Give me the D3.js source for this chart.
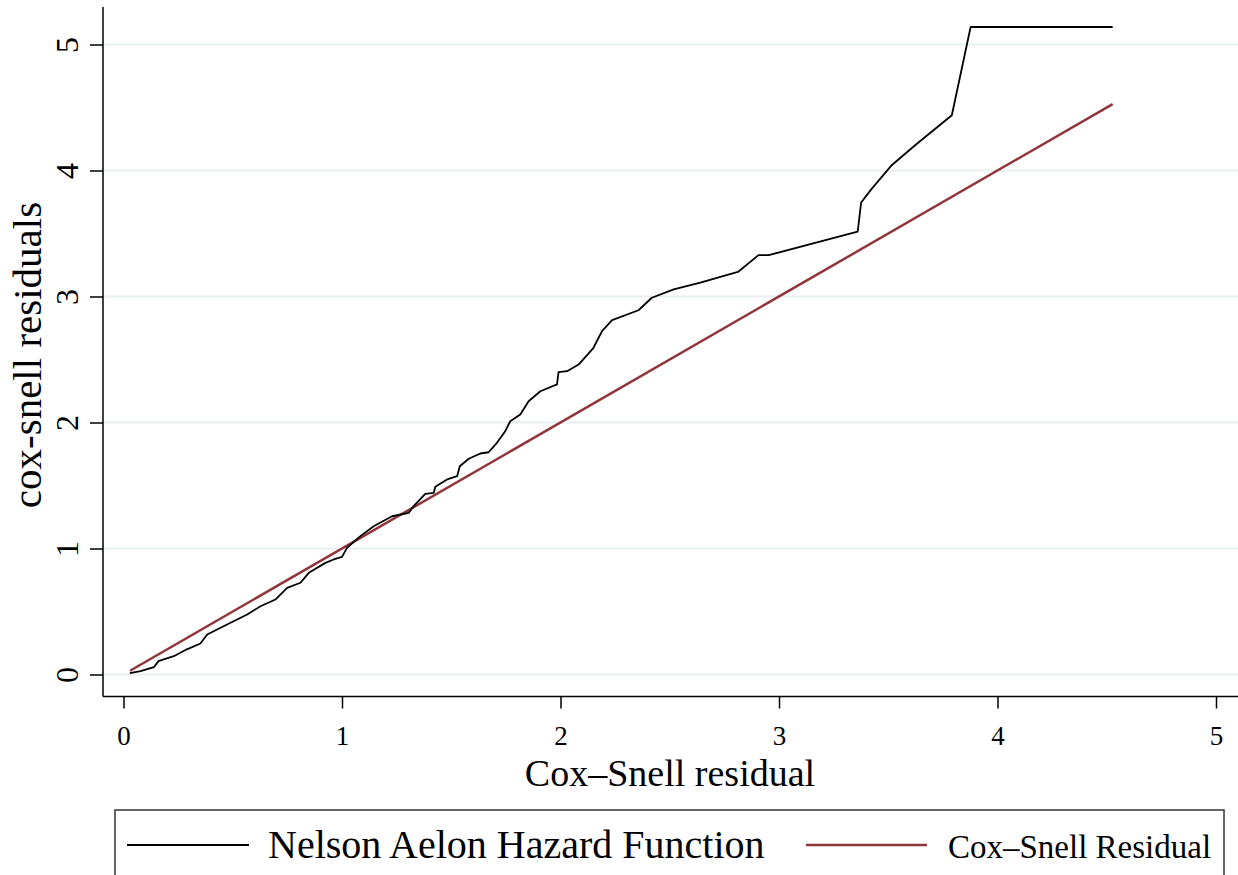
<!DOCTYPE html>
<html lang="en">
<head>
  <meta charset="utf-8">
  <title>Cox-Snell residuals</title>
  <script src="https://cdn.jsdelivr.net/npm/d3@7"></script>
  <style>
    body { margin: 0; background: #fff; }
    text { font-family: "Liberation Serif", "Times New Roman", serif; fill: #000; }
    .grid line { stroke: #e8f0f2; stroke-width: 2px; }
    .axis path, .axis line { stroke: #000; stroke-width: 1.5px; }
  </style>
</head>
<body>
  <div id="chart"></div>
  <script>
    // Nelson-Aalen cumulative hazard
    var hazX = [0.029, 0.078, 0.139, 0.16, 0.23, 0.29, 0.352, 0.383, 0.474, 0.566,
                0.627, 0.695, 0.749, 0.81, 0.848, 0.924, 0.962, 1.0, 1.023, 1.084,
                1.145, 1.229, 1.305, 1.328, 1.381, 1.42, 1.427, 1.481, 1.527, 1.539,
                1.58, 1.633, 1.671, 1.709, 1.747, 1.77, 1.816, 1.854, 1.908, 1.984,
                1.991, 2.03, 2.083, 2.151, 2.19, 2.236, 2.357, 2.418, 2.518, 2.64,
                2.812, 2.906, 2.953, 3.36, 3.376, 3.423, 3.517, 3.627, 3.791, 3.877,
                4.527];
    var hazY = [0.01, 0.026, 0.058, 0.106, 0.145, 0.2, 0.246, 0.317, 0.397, 0.476,
                0.542, 0.595, 0.688, 0.728, 0.807, 0.886, 0.913, 0.934, 1.005, 1.098,
                1.177, 1.256, 1.283, 1.336, 1.434, 1.442, 1.49, 1.548, 1.574, 1.653,
                1.712, 1.754, 1.764, 1.839, 1.931, 2.01, 2.063, 2.169, 2.248, 2.302,
                2.399, 2.407, 2.46, 2.593, 2.725, 2.812, 2.891, 2.99, 3.056, 3.11,
                3.195, 3.328, 3.328, 3.514, 3.746, 3.852, 4.044, 4.206, 4.438, 5.139,
                5.139];

    // reference line: cox-snell residual against itself
    var csX = [0.03, 4.527];
    var csY = [0.03, 4.527];

    var xTicks = [0, 1, 2, 3, 4, 5];
    var yTicks = [0, 1, 2, 3, 4, 5];
    var legendLabels = ["Nelson Aelon Hazard Function", "Cox\u2013Snell Residual"];

    var width = 1238,
        height = 875;

    var svg = d3.select("#chart")
      .append("svg")
        .attr("width", width)
        .attr("height", height);

    var x = d3.scaleLinear().domain([0, 5]).range([123.5, 1216]);
    var y = d3.scaleLinear().domain([0, 5]).range([674.5, 44.5]);

    var left = 103,
        bottom = 696.5;

    // grid
    svg.append("g")
        .attr("class", "grid")
      .selectAll("line")
        .data(yTicks)
      .enter().append("line")
        .attr("x1", left)
        .attr("x2", width)
        .attr("y1", function(d) { return y(d); })
        .attr("y2", function(d) { return y(d); });

    // y axis
    var yAxis = svg.append("g")
        .attr("class", "axis")
        .attr("transform", "translate(" + left + ",0)")
        .call(d3.axisLeft(y).tickValues(yTicks).tickSize(13).tickSizeOuter(0).tickFormat(d3.format("d")))
        .attr("font-family", "Liberation Serif");
    yAxis.select(".domain").attr("d", "M0,7V" + bottom);
    yAxis.selectAll(".tick text")
        .attr("x", 0).attr("y", 0).attr("dy", null)
        .attr("text-anchor", "middle")
        .attr("transform", "translate(-25,0) rotate(-90)")
        .style("font-size", "32px");

    // x axis
    var xAxis = svg.append("g")
        .attr("class", "axis")
        .attr("transform", "translate(0," + bottom + ")")
        .call(d3.axisBottom(x).tickValues(xTicks).tickSize(12).tickSizeOuter(0).tickFormat(d3.format("d")))
        .attr("font-family", "Liberation Serif");
    xAxis.select(".domain").attr("d", "M" + left + ",0H" + width);
    xAxis.selectAll(".tick text")
        .attr("y", 48.5).attr("dy", null)
        .style("font-size", "27px");

    // axis titles
    svg.append("text")
        .attr("x", 670)
        .attr("y", 786)
        .attr("text-anchor", "middle")
        .style("font-size", "38px")
        .text("Cox\u2013Snell residual");

    svg.append("text")
        .attr("transform", "translate(41,355) rotate(-90)")
        .attr("text-anchor", "middle")
        .style("font-size", "41px")
        .text("cox-snell residuals");

    // lines
    var line = d3.line()
        .x(function(d) { return x(d[0]); })
        .y(function(d) { return y(d[1]); });

    svg.append("path")
        .datum(d3.zip(csX, csY))
        .attr("fill", "none")
        .attr("stroke", "#90353b")
        .attr("stroke-width", 2.5)
        .attr("d", line);

    svg.append("path")
        .datum(d3.zip(hazX, hazY))
        .attr("fill", "none")
        .attr("stroke", "#000")
        .attr("stroke-width", 1.8)
        .attr("stroke-linejoin", "round")
        .attr("d", line);

    // legend
    var legend = svg.append("g");
    legend.append("rect")
        .attr("x", 115)
        .attr("y", 810)
        .attr("width", 1109)
        .attr("height", 100)
        .attr("fill", "#fff")
        .attr("stroke", "#333")
        .attr("stroke-width", 1.5);

    var legendItems = [
      { label: legendLabels[0], color: "#000", w: 1.8, x1: 127, x2: 249, tx: 268, size: 40 },
      { label: legendLabels[1], color: "#90353b", w: 2.5, x1: 806, x2: 927, tx: 948, size: 33 }
    ];

    var item = legend.selectAll(".item")
        .data(legendItems)
      .enter().append("g")
        .attr("class", "item");

    item.append("line")
        .attr("x1", function(d) { return d.x1; })
        .attr("x2", function(d) { return d.x2; })
        .attr("y1", 845)
        .attr("y2", 845)
        .attr("stroke", function(d) { return d.color; })
        .attr("stroke-width", function(d) { return d.w; });

    item.append("text")
        .attr("x", function(d) { return d.tx; })
        .attr("y", 858)
        .style("font-size", function(d) { return d.size + "px"; })
        .text(function(d) { return d.label; });
  </script>
</body>
</html>
